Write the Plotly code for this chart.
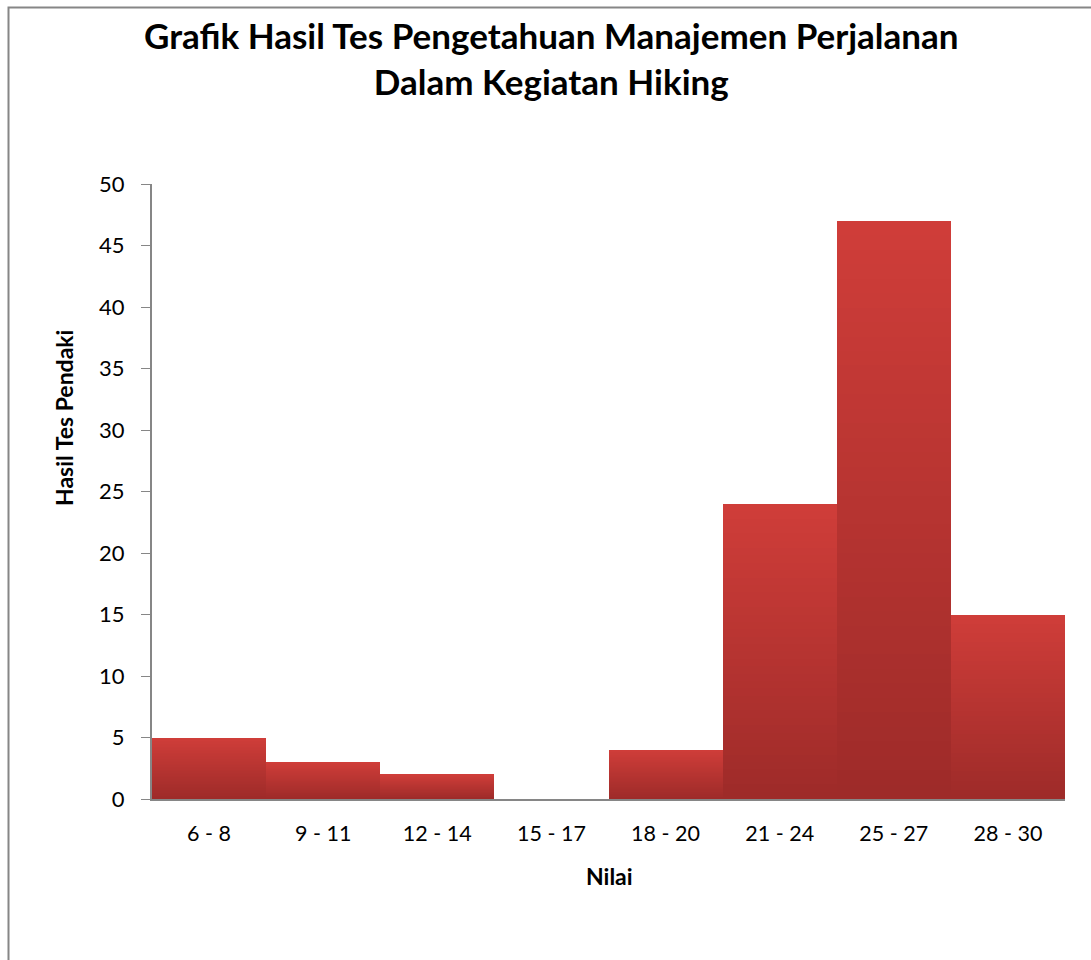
import plotly.graph_objects as go

categories = ["6 - 8", "9 - 11", "12 - 14", "15 - 17", "18 - 20", "21 - 24", "25 - 27", "28 - 30"]
values = [5, 3, 2, 0, 4, 24, 47, 15]
y_ticks = [0, 5, 10, 15, 20, 25, 30, 35, 40, 45, 50]

title_text = "Grafik Hasil Tes Pengetahuan Manajemen Perjalanan<br>Dalam Kegiatan Hiking"
x_title = "Nilai"
y_title = "Hasil Tes Pendaki"

W, H = 1091, 960
L, R, T, B = 152, 26, 184, 161
pw, ph = W - L - R, H - T - B

def px_x(p):
    return (p - L) / pw

def px_y(p):
    return (H - B - p) / ph

top_rgb = (207, 61, 57)
bot_rgb = (158, 43, 41)
N = 40

fig = go.Figure()
for k in range(N):
    f = k / (N - 1)
    c = tuple(round(top_rgb[i] + (bot_rgb[i] - top_rgb[i]) * f) for i in range(3))
    fig.add_trace(go.Bar(
        x=categories,
        y=[v * (N - k) / N for v in values],
        marker=dict(color="rgb(%d,%d,%d)" % c, line=dict(width=0)),
        width=1.0,
        showlegend=False,
        hoverinfo="skip" if k else "x+y",
    ))

font_family = "Lato, 'Open Sans', sans-serif"

fig.update_layout(
    width=W, height=H,
    margin=dict(l=L, r=R, t=T, b=B),
    barmode="overlay",
    bargap=0,
    plot_bgcolor="white",
    paper_bgcolor="white",
    font=dict(family=font_family, color="black", size=22),
    xaxis=dict(
        range=[-0.5, 7.5],
        showline=True, linecolor="#868686", linewidth=2,
        ticks="", showgrid=False, zeroline=False,
        tickfont=dict(size=21.5),
        ticklabelstandoff=14,
    ),
    yaxis=dict(
        range=[0, 50],
        tickvals=y_ticks,
        showline=True, linecolor="#868686", linewidth=2,
        ticks="outside", ticklen=9, tickcolor="#868686", tickwidth=1,
        showgrid=False, zeroline=False,
        tickfont=dict(size=22),
        ticklabelstandoff=12,
    ),
    annotations=[
        dict(text="<b>" + title_text.replace("<br>", "</b><br><b>") + "</b>",
             xref="paper", yref="paper", x=px_x(551), y=px_y(58.5),
             xanchor="center", yanchor="middle", showarrow=False,
             font=dict(size=35, family=font_family)),
        dict(text="<b>" + x_title + "</b>", xref="paper", yref="paper",
             x=px_x(609), y=px_y(876), xanchor="center", yanchor="middle",
             showarrow=False, font=dict(size=23, family=font_family)),
        dict(text="<b>" + y_title + "</b>", xref="paper", yref="paper",
             x=px_x(64), y=px_y(418), xanchor="center", yanchor="middle",
             textangle=-90, showarrow=False, font=dict(size=23, family=font_family)),
    ],
    shapes=[
        dict(type="rect", xref="paper", yref="paper",
             x0=px_x(8.5), x1=px_x(1100), y0=px_y(970), y1=px_y(7.5),
             line=dict(color="#868686", width=2), fillcolor="rgba(0,0,0,0)", layer="below"),
    ],
)

fig.write_html("out.html", config={"displayModeBar": False},
               post_script="document.body.style.margin='0';")
